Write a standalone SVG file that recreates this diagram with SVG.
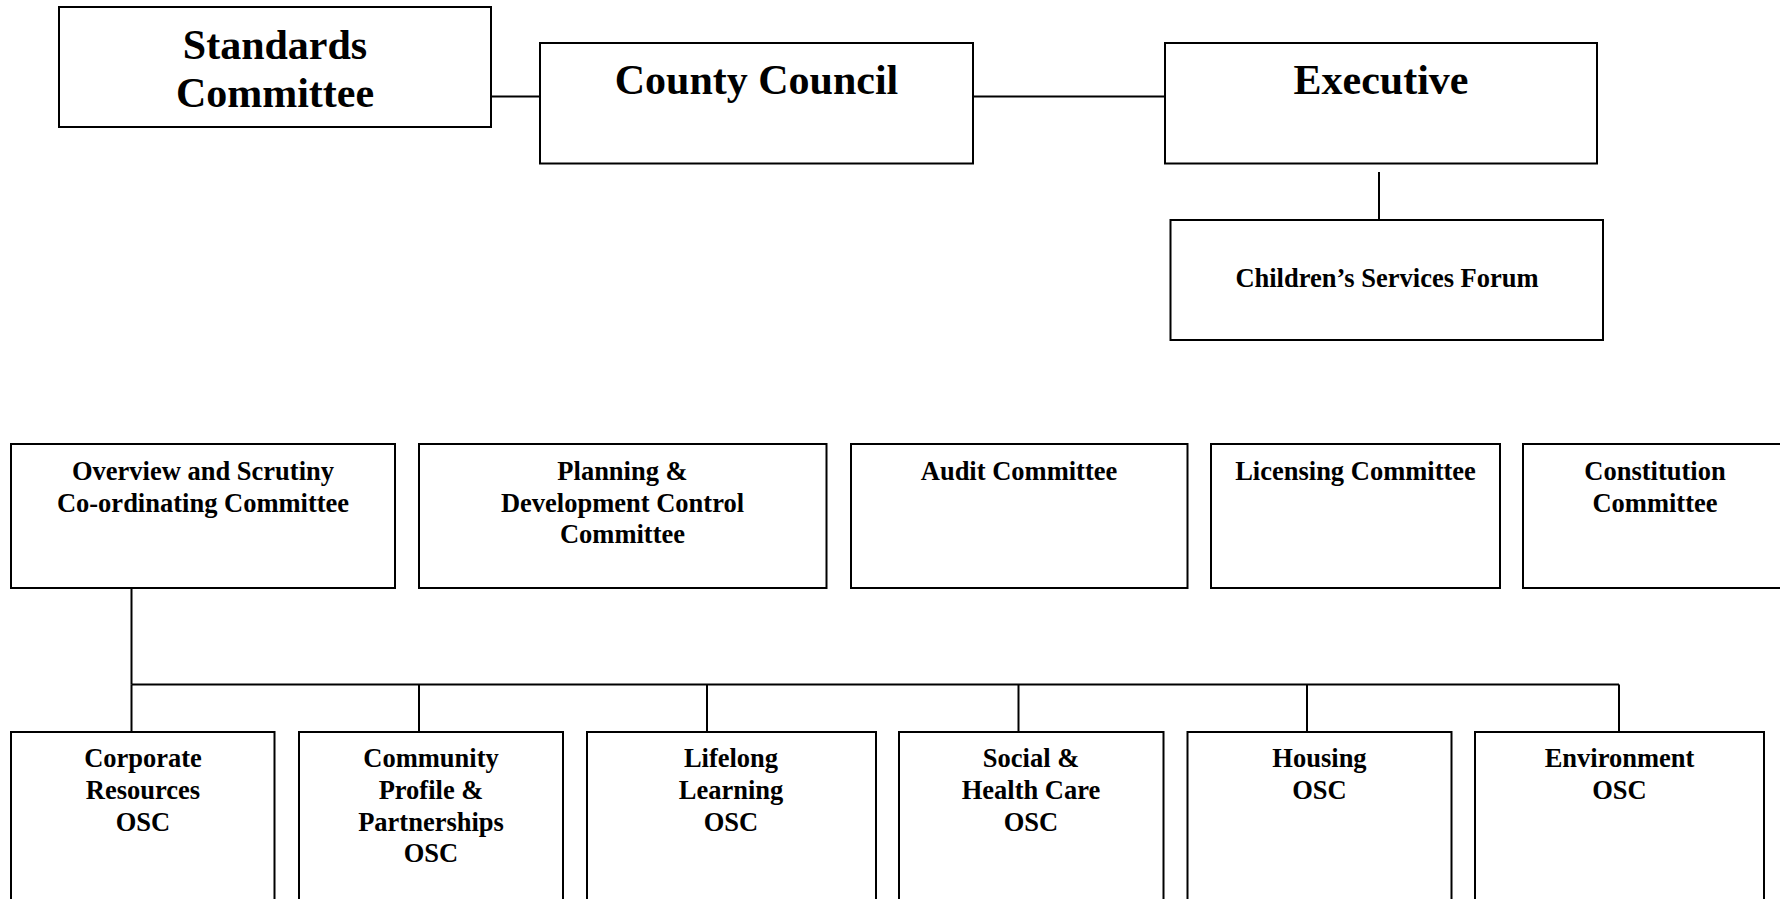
<svg xmlns="http://www.w3.org/2000/svg" width="1780" height="899" viewBox="0 0 1780 899">
<style>
.box{fill:#fff;stroke:#000;stroke-width:2}
.ln{fill:none;stroke:#000;stroke-width:2}
text{font-family:"Liberation Serif","Times New Roman",serif;font-weight:bold;fill:#000;text-anchor:middle}
.big{font-size:42px}
.sm{font-size:26.5px}
</style>
<rect width="1780" height="899" fill="#fff"/>
<g id="connectors">
<line class="ln" x1="491" y1="96.5" x2="540" y2="96.5"/>
<line class="ln" x1="973" y1="96.5" x2="1165" y2="96.5"/>
<line class="ln" x1="1379" y1="172" x2="1379" y2="220"/>
<polyline class="ln" points="131.5,588 131.5,684.5"/>
<line class="ln" x1="131.5" y1="684.5" x2="1619" y2="684.5"/>
<line class="ln" x1="131.5" y1="684.5" x2="131.5" y2="732"/>
<line class="ln" x1="419" y1="684.5" x2="419" y2="732"/>
<line class="ln" x1="707" y1="684.5" x2="707" y2="732"/>
<line class="ln" x1="1018.5" y1="684.5" x2="1018.5" y2="732"/>
<line class="ln" x1="1307" y1="684.5" x2="1307" y2="732"/>
<line class="ln" x1="1619" y1="684.5" x2="1619" y2="732"/>
</g>
<g id="standards">
<rect class="box" x="59" y="7" width="432" height="120"/>
<text class="big" x="275" y="59">Standards</text>
<text class="big" x="275" y="107">Committee</text>
</g>
<g id="county-council">
<rect class="box" x="540" y="43" width="433" height="120.5"/>
<text class="big" x="756.5" y="94">County Council</text>
</g>
<g id="executive">
<rect class="box" x="1165" y="43" width="432" height="120.5"/>
<text class="big" x="1381" y="94">Executive</text>
</g>
<g id="childrens-services-forum">
<rect class="box" x="1170.5" y="220" width="432.5" height="120"/>
<text class="sm" x="1387" y="287">Children’s Services Forum</text>
</g>
<g id="overview-scrutiny">
<rect class="box" x="11" y="444" width="384" height="144"/>
<text class="sm" x="203" y="480">Overview and Scrutiny</text>
<text class="sm" x="203" y="511.5">Co-ordinating Committee</text>
</g>
<g id="planning">
<rect class="box" x="419" y="444" width="407.5" height="144"/>
<text class="sm" x="622.5" y="480">Planning &amp;</text>
<text class="sm" x="622.5" y="511.5">Development Control</text>
<text class="sm" x="622.5" y="543">Committee</text>
</g>
<g id="audit">
<rect class="box" x="851" y="444" width="336.5" height="144"/>
<text class="sm" x="1019" y="480">Audit Committee</text>
</g>
<g id="licensing">
<rect class="box" x="1211" y="444" width="289" height="144"/>
<text class="sm" x="1355.5" y="480">Licensing Committee</text>
</g>
<g id="constitution">
<rect class="box" x="1523" y="444" width="264" height="144"/>
<text class="sm" x="1655" y="480">Constitution</text>
<text class="sm" x="1655" y="511.5">Committee</text>
</g>
<g id="corporate-resources">
<rect class="box" x="11" y="732" width="263.5" height="200"/>
<text class="sm" x="143" y="767">Corporate</text>
<text class="sm" x="143" y="799">Resources</text>
<text class="sm" x="143" y="830.5">OSC</text>
</g>
<g id="community-profile">
<rect class="box" x="299" y="732" width="264" height="200"/>
<text class="sm" x="431" y="767">Community</text>
<text class="sm" x="431" y="799">Profile &amp;</text>
<text class="sm" x="431" y="830.5">Partnerships</text>
<text class="sm" x="431" y="862">OSC</text>
</g>
<g id="lifelong-learning">
<rect class="box" x="587" y="732" width="289" height="200"/>
<text class="sm" x="731" y="767">Lifelong</text>
<text class="sm" x="731" y="799">Learning</text>
<text class="sm" x="731" y="830.5">OSC</text>
</g>
<g id="social-health">
<rect class="box" x="899" y="732" width="264.5" height="200"/>
<text class="sm" x="1031" y="767">Social &amp;</text>
<text class="sm" x="1031" y="799">Health Care</text>
<text class="sm" x="1031" y="830.5">OSC</text>
</g>
<g id="housing">
<rect class="box" x="1187.5" y="732" width="264" height="200"/>
<text class="sm" x="1319.5" y="767">Housing</text>
<text class="sm" x="1319.5" y="799">OSC</text>
</g>
<g id="environment">
<rect class="box" x="1475" y="732" width="289" height="200"/>
<text class="sm" x="1619.5" y="767">Environment</text>
<text class="sm" x="1619.5" y="799">OSC</text>
</g>
</svg>
